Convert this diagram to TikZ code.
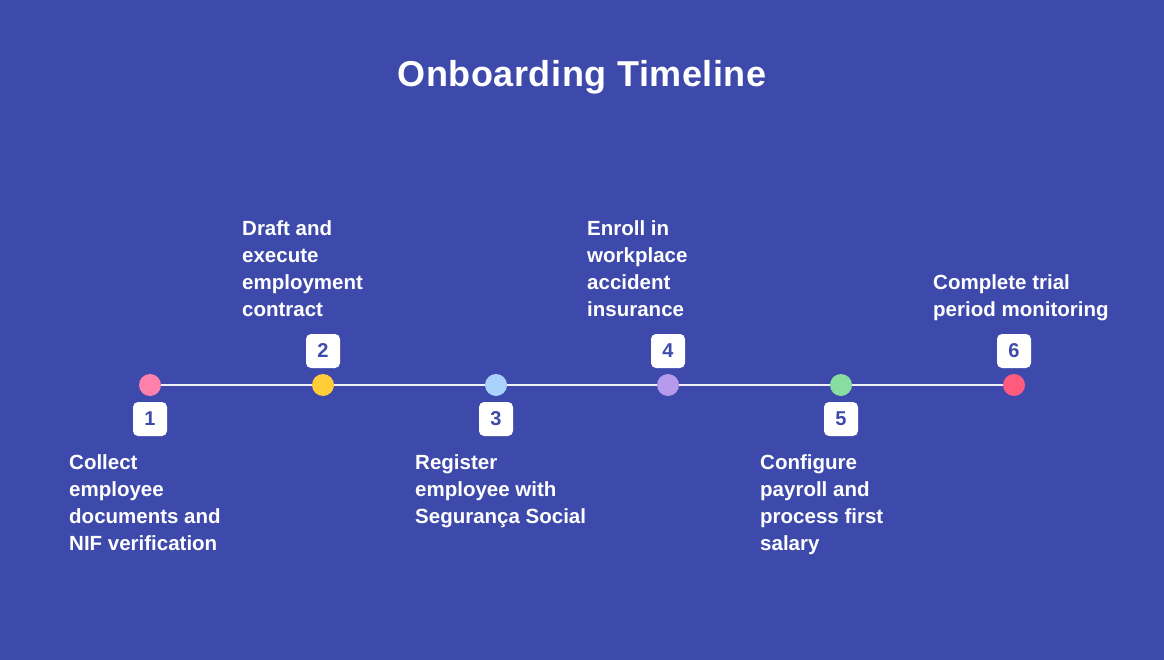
\documentclass[tikz,border=0pt]{standalone}
\usepackage{fontspec}
\setmainfont{Liberation Sans}
\usepackage{tikz}
\usetikzlibrary{%
  positioning,
}
\definecolor{bgblue}{HTML}{3E4AAB}
\definecolor{dotpink}{HTML}{FF80AB}
\definecolor{dotyellow}{HTML}{FFCD38}
\definecolor{dotsky}{HTML}{A9D2FF}
\definecolor{dotlilac}{HTML}{B59AEB}
\definecolor{dotgreen}{HTML}{87DEA0}
\definecolor{dotred}{HTML}{FF5B7E}

\begin{document}
\begin{tikzpicture}[
    x = 1pt, y = -1pt,
    dot/.style = {
      circle,
      minimum size = 22pt,
      inner sep = 0pt, outer sep = 0pt,
    },
    numbox/.style = {
      fill = white,
      rounded corners = 5pt,
      minimum size = 34pt,
      inner sep = 0pt, outer sep = 0pt,
      text = bgblue,
      font = \fontsize{20}{24}\selectfont\bfseries,
    },
    steptext/.style = {
      align = left,
      inner sep = 0pt,
      text = white,
      font = \fontsize{20.5}{27}\selectfont\bfseries,
    },
  ]
  \fill[bgblue] (0,0) rectangle (1164,660);

  \node[text = white, anchor = base,
    font = \fontsize{36}{42}\selectfont\bfseries\addfontfeatures{LetterSpace=1.5}]
    (title) at (582,87) {Onboarding Timeline};

  % dots on the line
  \foreach \i/\x/\col in {1/150/dotpink, 2/323/dotyellow, 3/496/dotsky,
                          4/668/dotlilac, 5/841/dotgreen, 6/1014/dotred} {
    \node[dot, fill = \col] (d\i) at (\x,385) {};
  }

  \begin{scope}[line width = 2pt, white!92!bgblue]
    \foreach \i/\j in {1/2, 2/3, 3/4, 4/5, 5/6} {
      \draw (d\i) -- (d\j);
    }
  \end{scope}

  % numbers
  \foreach \i in {1,3,5} {
    \node[numbox, below = 6pt of d\i] (b\i) {\i};
  }
  \foreach \i in {2,4,6} {
    \node[numbox, above = 6pt of d\i] (b\i) {\i};
  }

  % texts under the line
  \node[steptext, below = 18pt of b1.south, anchor = north west, xshift = -81pt]
    (t1) {Collect\\employee\\documents and\\NIF verification};
  \node[steptext, below = 18pt of b3.south, anchor = north west, xshift = -81pt]
    (t3) {Register\\employee with\\Segurança Social};
  \node[steptext, below = 18pt of b5.south, anchor = north west, xshift = -81pt]
    (t5) {Configure\\payroll and\\process first\\salary};

  % texts over the line
  \node[steptext, text depth = 0pt, above = 17pt of b2.north, anchor = south west, xshift = -81pt]
    (t2) {Draft and\\execute\\employment\\contract};
  \node[steptext, text depth = 0pt, above = 17pt of b4.north, anchor = south west, xshift = -81pt]
    (t4) {Enroll in\\workplace\\accident\\insurance};
  \node[steptext, text depth = 0pt, above = 17pt of b6.north, anchor = south west, xshift = -81pt]
    (t6) {Complete trial\\period monitoring};
\end{tikzpicture}
\end{document}
